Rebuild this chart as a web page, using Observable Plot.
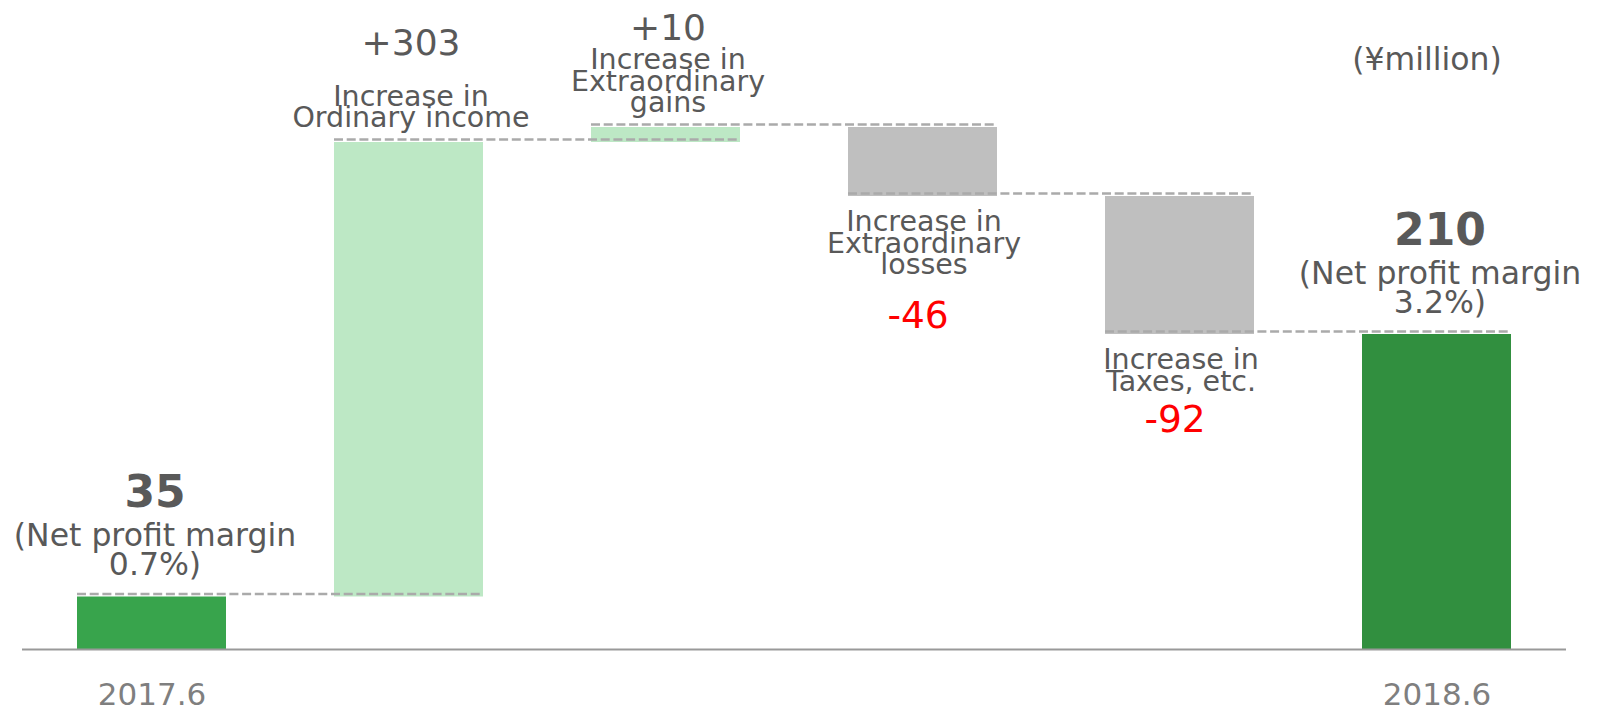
<!DOCTYPE html>
<html>
<head>
<meta charset="utf-8">
<script src="https://cdn.jsdelivr.net/npm/d3@7"></script>
<script src="https://cdn.jsdelivr.net/npm/@observablehq/plot@0.6"></script>
<style>
  html, body { margin: 0; padding: 0; background: #ffffff; }
  #chart svg { display: block; }
</style>
</head>
<body>
<div id="chart"></div>
<script>
// ---- data ----
const categories = ["2017.6", "Ordinary income", "Extraordinary gains", "Extraordinary losses", "Taxes, etc.", "2018.6"];
const values = [35, 303, 10, -46, -92, 210];
const kinds = ["total", "change", "change", "change", "change", "total"];
const valueLabels = ["35", "+303", "+10", "-46", "-92", "210"];
const descriptions = [
  "(Net profit margin\n0.7%)",
  "Increase in\nOrdinary income",
  "Increase in\nExtraordinary\ngains",
  "Increase in\nExtraordinary\nlosses",
  "Increase in\nTaxes, etc.",
  "(Net profit margin\n3.2%)"
];
const tickLabels = ["2017.6", "", "", "", "", "2018.6"];
const unitLabel = "(¥million)";

// ---- styles ----
const barColors = ["#38a44c", "#bde8c5", "#bde8c5", "#bfbfbf", "#bfbfbf", "#318f3f"];
const textGray = "#595959";
const font = "DejaVu Sans";

// ---- derived waterfall table ----
let run = 0;
const rows = categories.map((cat, i) => {
  let start, end;
  if (kinds[i] === "total") { start = 0; end = values[i]; }
  else { start = run; end = run + values[i]; }
  run = end;
  return {cat, i, start, end, value: values[i], kind: kinds[i], label: valueLabels[i], desc: descriptions[i], color: barColors[i]};
});
const connectors = rows.slice(0, -1).map((r, i) => ({from: r.cat, to: categories[i + 1], level: r.end}));

const totals = rows.filter(r => r.kind === "total");
const ups = rows.filter(r => r.kind === "change" && r.value > 0);
const downs = rows.filter(r => r.kind === "change" && r.value < 0);

const chart = Plot.plot({
  width: 1605,
  height: 709,
  marginLeft: 22,
  marginRight: 39,
  marginTop: 4,
  marginBottom: 60,
  style: {fontFamily: font, background: "#ffffff"},
  x: {domain: categories, paddingInner: 0.42, paddingOuter: 0.205, axis: null},
  y: {domain: [0, 430], axis: null},
  marks: [
    Plot.barY(rows, {x: "cat", y1: "start", y2: "end", fill: "color"}),
    Plot.ruleY(connectors, {x1: "from", x2: "to", y: "level", dy: -3, stroke: "#aaaaaa", strokeWidth: 2.7, strokeDasharray: "9,3.7"}),
    Plot.ruleY([0], {stroke: "#999999", strokeWidth: 2}),
    Plot.axisX({tickSize: 0, tickPadding: 33, fontSize: 31, color: "#7f7f7f", tickFormat: (d) => tickLabels[categories.indexOf(d)]}),
    // totals
    Plot.text(totals, {x: "cat", y: "end", text: "label", dx: 3, dy: -90, lineAnchor: "bottom", fontSize: 44, fontWeight: "bold", fill: textGray}),
    Plot.text(totals, {x: "cat", y: "end", text: "desc", dx: 3, dy: -22, lineAnchor: "bottom", fontSize: 31.5, lineHeight: 0.92, fill: textGray}),
    // increases
    Plot.text(ups, {x: "cat", y: "end", text: "label", dx: 2, dy: -88, lineAnchor: "bottom", fontSize: 36, fill: textGray}),
    Plot.text(ups, {x: "cat", y: "end", text: "desc", dx: 2, dy: -15.5, lineAnchor: "bottom", fontSize: 28.5, lineHeight: 0.75, fill: textGray}),
    // decreases
    Plot.text(downs, {x: "cat", y: d => (d.start + d.end) / 2, text: "label", dx: -5, dy: 166, lineAnchor: "bottom", fontSize: 37.5, fill: "#ff0000"}),
    Plot.text(downs, {x: "cat", y: "end", text: "desc", dx: 1, dy: 19, lineAnchor: "top", fontSize: 28.5, lineHeight: 0.76, fill: textGray}),
    // unit
    Plot.text([unitLabel], {x: () => categories[categories.length - 1], frameAnchor: "top", text: d => d, dx: -10, dy: 65, lineAnchor: "bottom", fontSize: 31.5, fill: textGray})
  ]
});
document.getElementById("chart").appendChild(chart);
</script>
</body>
</html>
